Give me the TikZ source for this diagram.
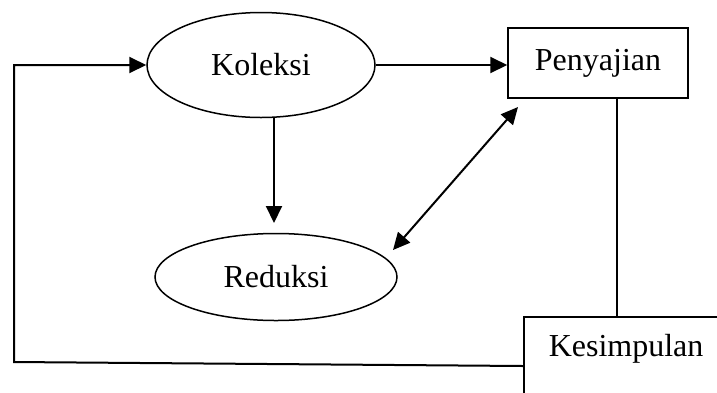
\documentclass[tikz,border=0pt]{standalone}
\usepackage{fontspec}
\setmainfont{Liberation Serif}
\usetikzlibrary{shapes.geometric,arrows.meta,calc}
\begin{document}
\begin{tikzpicture}[x=1pt,y=-1pt,
  every node/.style={font=\fontsize{32}{38}\selectfont},
  oval/.style={ellipse,draw,line width=1.5pt,inner sep=0pt},
  boxnode/.style={rectangle,draw,line width=1.5pt,inner sep=0pt},
  link/.style={line width=2pt},
  arr/.style={link,-{Triangle[length=17pt,width=16pt]}},
  darr/.style={link,{Triangle[length=17pt,width=16pt]}-{Triangle[length=17pt,width=16pt]}}]
\useasboundingbox (0,0) rectangle (717,392);
\clip (0,0) rectangle (717,392);
\node[oval,minimum width=228pt,minimum height=105pt] (kol) at (261,65) {Koleksi};
\node[boxnode,minimum width=180pt,minimum height=70pt] (pen) at (598,63) {Penyajian};
\node[oval,minimum width=242pt,minimum height=87pt] (red) at (276,277) {Reduksi};
\node[boxnode,anchor=north west,inner xsep=25pt,inner ysep=18pt,text depth=60pt] (kes) at (523,316) {Kesimpulan};
\coordinate (tipd) at (274,223);
\coordinate (dlo) at (393,250);
\coordinate (dhi) at (518,107);
\coordinate (cbl) at (14,362);
\coordinate (cpk) at ($(pen.south)+(19,0)$);
\coordinate (ckl) at ($(kes.north west)+(0,50)$);
\draw[arr] (kol.east) -- (kol.east -| pen.west);
\draw[arr] (kol.south -| tipd) -- (tipd);
\draw[darr] (dlo) -- (dhi);
\draw[line width=1.5pt] (cpk) -- (cpk |- kes.north);
\draw[arr] (ckl) -- (cbl) -- (cbl |- kol.west) -- (kol.west);
\end{tikzpicture}
\end{document}
